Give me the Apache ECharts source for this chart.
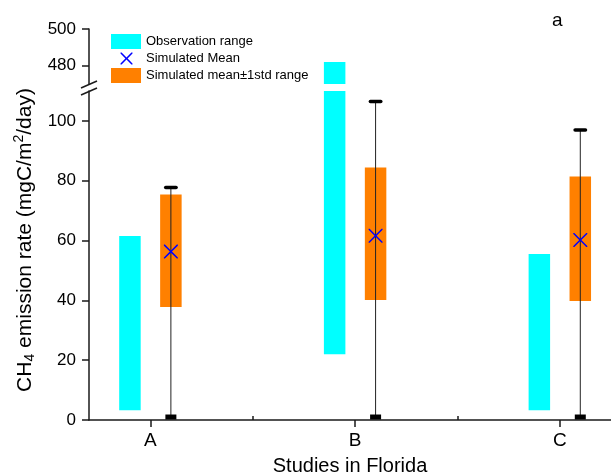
<!DOCTYPE html>
<html>
<head>
<meta charset="utf-8">
<script src="https://cdn.jsdelivr.net/npm/echarts@6/dist/echarts.min.js"></script>
<style>html,body{margin:0;padding:0;background:#fff}#c{width:611px;height:476px}</style>
</head>
<body>
<div id="c"></div>
<script>
// ---- data ----
const categories = ['A', 'B', 'C'];
const obsLow = [3.3, 22, 3.3];
const obsHigh = [61.5, 482, 55.5];
const simMean = [56.3, 61.6, 60.2];
const sdLow = [37.8, 40.1, 39.8];
const sdHigh = [75.4, 84.4, 81.4];
const whiskerLow = [1, 1, 1];
const whiskerHigh = [77.7, 106.5, 97];
const yTicksLower = [0, 20, 40, 60, 80, 100];
const yMinorLower = [10, 30, 50, 70, 90];
const yTicksUpper = [480, 500];
const yMinorUpper = [490];
const xTicks = [1, 2, 3];
const xMinor = [1.5, 2.5];

// ---- layout/style ----
const FONT = 'Liberation Sans';
const OFFSET = 0.1, BAR_W = 0.105;
const CYAN = '#00FFFF', ORANGE = '#FF8000', BLUE = '#0000FF';

const obsData = categories.map((c, i) => [i + 1 - OFFSET, obsLow[i], obsHigh[i]]);
const sdData = categories.map((c, i) => [i + 1 + OFFSET, sdLow[i], sdHigh[i]]);
const whiskData = categories.map((c, i) => [i + 1 + OFFSET, whiskerLow[i], whiskerHigh[i]]);
const meanData = categories.map((c, i) => [i + 1 + OFFSET, simMean[i]]);

function rangeBar(color) {
  return function (params, api) {
    const x = api.value(0), lo = api.value(1), hi = api.value(2);
    const pTop = api.coord([x, hi]), pBot = api.coord([x, lo]);
    const w = api.size([BAR_W, 0])[0];
    return { type: 'rect', shape: { x: pTop[0] - w / 2, y: pTop[1], width: w, height: pBot[1] - pTop[1] },
      style: { fill: color } };
  };
}
function whisker(params, api) {
  const x = api.value(0), lo = api.value(1), hi = api.value(2);
  const pTop = api.coord([x, hi]), pBot = api.coord([x, lo]);
  return { type: 'group', children: [
    { type: 'line', shape: { x1: pTop[0], y1: pTop[1], x2: pBot[0], y2: pBot[1] }, style: { stroke: '#222', lineWidth: 1 } },
    { type: 'line', shape: { x1: pTop[0] - 5.2, y1: pTop[1], x2: pTop[0] + 5.2, y2: pTop[1] }, style: { stroke: '#000', lineWidth: 3.5, lineCap: 'round' } },
    { type: 'rect', shape: { x: pBot[0] - 5.5, y: pBot[1] - 2.5, width: 11, height: 5 }, style: { fill: '#000' } }
  ] };
}
function xPath(x0, y0, s, d, box) {
  const h = s / 2;
  const pts = [[x0, y0], [x0 + d, y0], [x0 + h, y0 + h - d], [x0 + s - d, y0], [x0 + s, y0], [x0 + s, y0 + d],
    [x0 + h + d, y0 + h], [x0 + s, y0 + s - d], [x0 + s, y0 + s], [x0 + s - d, y0 + s], [x0 + h, y0 + h + d],
    [x0 + d, y0 + s], [x0, y0 + s], [x0, y0 + s - d], [x0 + h - d, y0 + h], [x0, y0 + d]];
  let p = 'path://' + (box ? 'M0,0L0,0ZM' + box[0] + ',' + box[1] + 'L' + box[0] + ',' + box[1] + 'Z' : '');
  p += 'M' + pts.map(q => q[0] + ',' + q[1]).join('L') + 'Z';
  return p;
}
const X_SYMBOL = xPath(0, 0, 20, 1.5);
const X_LEGEND = xPath(9.5, 1.5, 12, 1.1, [30, 15]);

const axisCol = '#1a1a1a';
const chart = echarts.init(document.getElementById('c'));
const gridL = 89;
const option = {
  animation: false,
  textStyle: { fontFamily: FONT },
  title: { text: 'a', left: 547, top: 6, textStyle: { fontFamily: FONT, fontSize: 19, fontWeight: 'normal', color: '#000' } },
  legend: {
    orient: 'vertical', left: 111, top: 34, padding: 0, itemGap: 2, itemWidth: 30, itemHeight: 15,
    selectedMode: false, textStyle: { fontFamily: FONT, fontSize: 13, color: '#000' },
    data: [
      { name: 'Observation range', icon: 'rect' },
      { name: 'Simulated Mean', icon: X_LEGEND },
      { name: 'Simulated mean±1std range', icon: 'rect' }
    ]
  },
  grid: [
    { left: gridL, right: 0, top: 29, height: 55, outerBoundsMode: 'none', containLabel: false },
    { left: gridL, right: 0, top: 91, bottom: 56, outerBoundsMode: 'none', containLabel: false }
  ],
  xAxis: [
    { gridIndex: 0, type: 'value', min: 0.7, max: 3.25, show: false },
    { gridIndex: 1, type: 'value', min: 0.7, max: 3.25, splitLine: { show: false },
      axisLine: { lineStyle: { color: axisCol, width: 1.5 } },
      axisTick: { customValues: xTicks, length: 7, lineStyle: { color: axisCol, width: 1.5 } },
      axisLabel: { customValues: xTicks, margin: 11, fontSize: 19, color: '#000', fontFamily: FONT,
        formatter: v => categories[Math.round(v) - 1] },
      name: 'Studies in Florida', nameLocation: 'middle', nameGap: 36,
      nameTextStyle: { fontSize: 20, color: '#000', fontFamily: FONT } },
    { gridIndex: 1, type: 'value', min: 0.7, max: 3.25, splitLine: { show: false },
      axisLine: { show: false }, axisLabel: { show: false },
      axisTick: { customValues: xMinor, length: 4, lineStyle: { color: axisCol, width: 1.5 } } }
  ],
  yAxis: [
    { gridIndex: 0, type: 'value', min: 470, max: 500, splitLine: { show: false },
      axisLine: { show: true, lineStyle: { color: axisCol, width: 1.5 } },
      axisTick: { show: true, customValues: yTicksUpper, length: 7, lineStyle: { color: axisCol, width: 1.5 } },
      axisLabel: { customValues: yTicksUpper, margin: 13, fontSize: 17, color: '#000', fontFamily: FONT } },
    { gridIndex: 0, type: 'value', min: 470, max: 500, splitLine: { show: false },
      axisLine: { show: false }, axisLabel: { show: false },
      axisTick: { show: true, customValues: yMinorUpper, length: 4, lineStyle: { color: axisCol, width: 1.5 } } },
    { gridIndex: 1, type: 'value', min: 0, max: 110, splitLine: { show: false },
      axisLine: { show: true, lineStyle: { color: axisCol, width: 1.5 } },
      axisTick: { show: true, customValues: yTicksLower, length: 7, lineStyle: { color: axisCol, width: 1.5 } },
      axisLabel: { customValues: yTicksLower, margin: 13, fontSize: 17, color: '#000', fontFamily: FONT } },
    { gridIndex: 1, type: 'value', min: 0, max: 110, splitLine: { show: false },
      axisLine: { show: false }, axisLabel: { show: false },
      axisTick: { show: true, customValues: yMinorLower, length: 4, lineStyle: { color: axisCol, width: 1.5 } } }
  ],
  series: [
    { name: 'Observation range', type: 'custom', xAxisIndex: 1, yAxisIndex: 2, clip: true,
      itemStyle: { color: CYAN }, renderItem: rangeBar(CYAN), data: obsData },
    { name: 'Observation range', type: 'custom', xAxisIndex: 0, yAxisIndex: 0, clip: true,
      itemStyle: { color: CYAN }, renderItem: rangeBar(CYAN), data: obsData },
    { name: 'Simulated mean±1std range', type: 'custom', xAxisIndex: 1, yAxisIndex: 2, clip: true,
      itemStyle: { color: ORANGE }, renderItem: rangeBar(ORANGE), data: sdData },
    { name: 'whisker', type: 'custom', xAxisIndex: 1, yAxisIndex: 2, clip: false, z: 3,
      itemStyle: { color: '#000' }, renderItem: whisker, data: whiskData },
    { name: 'Simulated Mean', type: 'scatter', xAxisIndex: 1, yAxisIndex: 2, z: 4,
      symbol: X_SYMBOL, symbolSize: 14, itemStyle: { color: BLUE, opacity: 1 }, data: meanData }
  ]
};
chart.setOption(option);

// axis break marks and y-axis title
const pUpper = chart.convertToPixel({ xAxisIndex: 0, yAxisIndex: 0 }, [0.7, 470]);
const pLower = chart.convertToPixel({ xAxisIndex: 1, yAxisIndex: 2 }, [0.7, 110]);
function slash(p) {
  return { type: 'line', shape: { x1: p[0] - 8, y1: p[1] + 3.5, x2: p[0] + 8, y2: p[1] - 3.5 },
    style: { stroke: axisCol, lineWidth: 1.5 }, z: 10 };
}
const yMid = (pUpper[1] + chart.convertToPixel({ xAxisIndex: 1, yAxisIndex: 2 }, [0.7, 0])[1]) / 2;
chart.setOption({
  graphic: [
    slash([pUpper[0], pUpper[1] + 0.5]),
    slash([pLower[0], pLower[1] + 0.5]),
    { type: 'text', x: 25, y: yMid - 12, rotation: Math.PI / 2, z: 10,
      style: { text: '{a|CH}{s|4}{a| emission rate (mgC/m}{p|2}{a|/day)}', align: 'center', verticalAlign: 'middle',
        fill: '#000', font: '21px ' + FONT,
        rich: { a: { fontSize: 21, lineHeight: 25, fontFamily: FONT },
                s: { fontSize: 14, lineHeight: 16, verticalAlign: 'bottom', fontFamily: FONT },
                p: { fontSize: 14, lineHeight: 16, verticalAlign: 'top', fontFamily: FONT } } } }
  ]
});
</script>
</body>
</html>
